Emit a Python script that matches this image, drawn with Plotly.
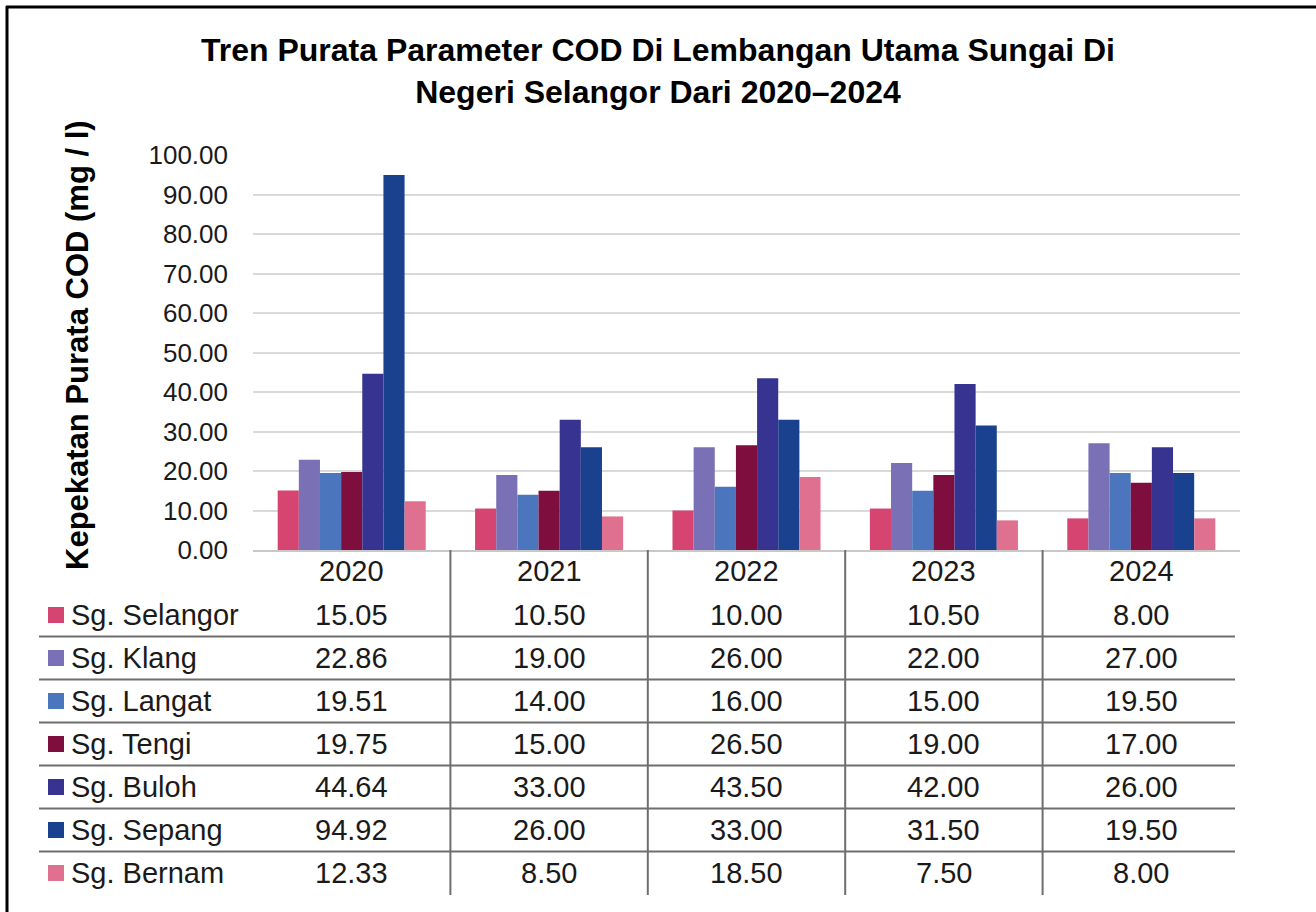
import plotly.graph_objects as go

# Data
tahun = ['2020', '2021', '2022', '2023', '2024']
sungai = ['Sg. Selangor', 'Sg. Klang', 'Sg. Langat', 'Sg. Tengi',
          'Sg. Buloh', 'Sg. Sepang', 'Sg. Bernam']
selangor = [15.05, 10.50, 10.00, 10.50, 8.00]
klang = [22.86, 19.00, 26.00, 22.00, 27.00]
langat = [19.51, 14.00, 16.00, 15.00, 19.50]
tengi = [19.75, 15.00, 26.50, 19.00, 17.00]
buloh = [44.64, 33.00, 43.50, 42.00, 26.00]
sepang = [94.92, 26.00, 33.00, 31.50, 19.50]
bernam = [12.33, 8.50, 18.50, 7.50, 8.00]
nilai = [selangor, klang, langat, tengi, buloh, sepang, bernam]
warna = ['#D64571', '#7A70B5', '#4B76BE', '#7E0E3E', '#373390', '#1A418E', '#E0708F']

W, H = 1316, 912
L, R, T, B = 253, 76, 155, 362
pw, ph = W - L - R, H - T - B


def px(x):
    # piksel -> koordinat kertas (paksi x)
    return (x - L) / pw


def py(y):
    # piksel -> koordinat kertas (paksi y)
    return (H - B - y) / ph


FONT = 'Liberation Sans, Arial, sans-serif'
TXT = '#1a1a1a'

fig = go.Figure()
for nama, v, c in zip(sungai, nilai, warna):
    fig.add_trace(go.Bar(x=tahun, y=v, name=nama, marker=dict(color=c, line_width=0)))

fig.update_layout(
    width=W, height=H,
    margin=dict(l=L, r=R, t=T, b=B),
    paper_bgcolor='white', plot_bgcolor='white',
    barmode='group', bargap=0.25, bargroupgap=0,
    showlegend=False,
    font=dict(family=FONT, color=TXT),
    title=dict(text='<b>Tren Purata Parameter COD Di Lembangan Utama Sungai Di<br>Negeri Selangor Dari 2020–2024</b>',
               x=0.5, xref='container', xanchor='center',
               y=1 - 61 / H, yref='container', yanchor='middle',
               font=dict(size=32, color='black', family=FONT)),
)
fig.update_yaxes(range=[0, 100], dtick=10, tickformat='.2f',
                 showgrid=True, gridcolor='#D9D9D9', gridwidth=2,
                 zeroline=False, showline=False, ticks='',
                 ticklabelstandoff=24,
                 tickfont=dict(size=26, color=TXT))
fig.update_xaxes(type='category', range=[-0.5, len(tahun) - 0.5],
                 showgrid=False, showline=True,
                 linecolor='#C8C8C8', linewidth=2,
                 ticks='', showticklabels=False)

# Tajuk paksi y
fig.add_annotation(text='<b>Kepekatan Purata COD (mg / l)</b>', textangle=-90,
                   x=px(77), y=py(345), xref='paper', yref='paper',
                   xanchor='center', yanchor='middle',
                   showarrow=False, font=dict(size=31, color='black'))

# Jadual data di bawah carta
TS = 29
for k, t in enumerate(tahun):
    fig.add_annotation(text=t, x=k, y=py(571), xref='x', yref='paper',
                       xanchor='center', yanchor='middle', showarrow=False,
                       font=dict(size=TS, color=TXT))

row0 = 615
pitch = 43
garis = dict(color='#6E6E6E', width=2)
for i, (nama, v, c) in enumerate(zip(sungai, nilai, warna)):
    yc = row0 + i * pitch
    fig.add_shape(type='rect', xref='paper', yref='paper',
                  x0=px(48), x1=px(64), y0=py(yc - 8), y1=py(yc + 8),
                  fillcolor=c, line_width=0)
    fig.add_annotation(text=nama, x=px(69), y=py(yc), xref='paper', yref='paper',
                       xanchor='left', yanchor='middle', showarrow=False,
                       font=dict(size=TS, color=TXT))
    for k, val in enumerate(v):
        fig.add_annotation(text=f'{val:.2f}', x=k, y=py(yc), xref='x', yref='paper',
                           xanchor='center', yanchor='middle', showarrow=False,
                           font=dict(size=TS, color=TXT))
    if i > 0:
        fig.add_shape(type='line', xref='paper', yref='paper',
                      x0=px(39), x1=px(1235), y0=py(yc - pitch / 2), y1=py(yc - pitch / 2),
                      line=garis)
for k in range(len(tahun) - 1):
    fig.add_shape(type='line', xref='x', yref='paper',
                  x0=k + 0.5, x1=k + 0.5, y0=0, y1=py(895), line=garis)

# Bingkai hitam kiri dan atas
fig.add_shape(type='line', xref='paper', yref='paper',
              x0=px(7), x1=px(7), y0=py(6), y1=py(912), line=dict(color='black', width=3))
fig.add_shape(type='line', xref='paper', yref='paper',
              x0=px(6), x1=px(1316), y0=py(7), y1=py(7), line=dict(color='black', width=3))

# Buang margin lalai <body> supaya rajah bermula di (0, 0)
fig.write_html('out.html', config={'displayModeBar': False},
               post_script="document.body.style.margin='0';")
